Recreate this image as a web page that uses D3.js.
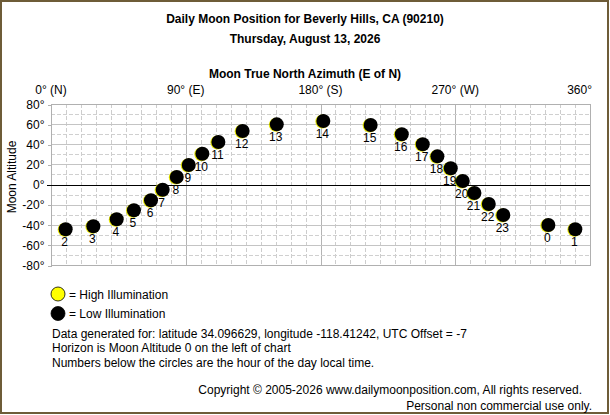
<!DOCTYPE html>
<html>
<head>
<meta charset="utf-8">
<script src="https://cdn.jsdelivr.net/npm/d3@7"></script>
<style>
  html, body { margin: 0; padding: 0; background: #fff; }
  svg { display: block; font-family: 'Liberation Sans', Arial, sans-serif; }
</style>
</head>
<body>
<div id="chart"></div>
<script>
// Moon position per local hour
const hours = [2, 3, 4, 5, 6, 7, 8, 9, 10, 11, 12, 13, 14, 15, 16, 17, 18, 19, 20, 21, 22, 23, 0, 1]
const azimuth = [9.8, 28.3, 43.9, 55.4, 66.8, 74.6, 84, 92, 101.1, 111.8, 128, 150.8,
    181.9, 213.5, 234.3, 248.3, 258.1, 267, 275, 282.8, 292.4, 302.1, 332.2, 350.2]
const altitude = [-44.5, -41.5, -34.6, -25.6, -15.7, -5.2, 7.5, 19.4, 30.6, 42.2, 53.2, 59.8,
    63.1, 59.1, 49.9, 40, 28, 16.1, 3.5, -8.4, -19.4, -30.3, -40.3, -44.5]

// Axis ticks
const azTicks = [0, 90, 180, 270, 360]
const azTickLabels = ['0° (N)', '90° (E)', '180° (S)', '270° (W)', '360°']
const altTicks = [80, 60, 40, 20, 0, -20, -40, -60, -80]

// Text
const titleLines = ['Daily Moon Position for Beverly Hills, CA (90210)', 'Thursday, August 13, 2026']
const xTitle = 'Moon True North Azimuth (E of N)'
const yTitle = 'Moon Altitude'
const legendLabels = ['= High Illumination', '= Low Illumination']
const notes = [
    'Data generated for: latitude 34.096629, longitude -118.41242, UTC Offset = -7',
    'Horizon is Moon Altitude 0 on the left of chart',
    'Numbers below the circles are the hour of the day local time.',
]
const footer = [
    'Copyright © 2005-2026 www.dailymoonposition.com, All rights reserved.',
    'Personal non commercial use only.',
]

const W = 610
const H = 415
const plot = { left: 51, right: 590, top: 104, bottom: 265 }

const points = hours.map((h, i) => ({ hour: h, az: azimuth[i], alt: altitude[i] }))

const svg = d3
    .select('#chart')
    .append('svg')
    .attr('width', W)
    .attr('height', H)

// Frame
svg.append('rect')
    .attr('x', 1)
    .attr('y', 1)
    .attr('width', W - 3)
    .attr('height', H - 3)
    .attr('fill', '#fff')
    .attr('stroke', '#6e5c38')
    .attr('stroke-width', 2)

const x = d3.scaleLinear().domain([0, 360]).range([plot.left, plot.right])
const y = d3.scaleLinear().domain([-80, 80]).range([plot.bottom, plot.top])

// Grid
const grid = svg.append('g').attr('shape-rendering', 'crispEdges')
grid.selectAll('.vgrid')
    .data(d3.range(10, 360, 10))
    .join('line')
    .attr('x1', (d) => Math.round(x(d)) + 0.5)
    .attr('x2', (d) => Math.round(x(d)) + 0.5)
    .attr('y1', plot.top)
    .attr('y2', plot.bottom)
    .attr('stroke', (d) => (d % 90 === 0 ? '#b4b4b4' : '#cdcdcd'))
    .attr('stroke-dasharray', (d) => (d % 90 === 0 ? null : '4,2'))

grid.selectAll('.hgrid')
    .data(d3.range(-70, 80, 10))
    .join('line')
    .attr('x1', plot.left)
    .attr('x2', plot.right)
    .attr('y1', (d) => Math.round(y(d)) + 0.5)
    .attr('y2', (d) => Math.round(y(d)) + 0.5)
    .attr('stroke', (d) => (d % 20 === 0 ? '#c4c4c4' : '#d0d0d0'))
    .attr('stroke-dasharray', (d) => (d % 20 === 0 ? null : '4,2'))

// Plot frame
svg.append('rect')
    .attr('x', plot.left + 0.5)
    .attr('y', plot.top + 0.5)
    .attr('width', plot.right - plot.left)
    .attr('height', plot.bottom - plot.top)
    .attr('fill', 'none')
    .attr('stroke', '#b0b0b0')
    .attr('shape-rendering', 'crispEdges')

// Left axis
const yAxis = d3.axisLeft(y)
    .tickValues(altTicks)
    .tickSize(4)
    .tickFormat((d) => `${d}°`)
svg.append('g')
    .attr('transform', `translate(${plot.left + 0.5},0.5)`)
    .call(yAxis)
    .call((g) => g.select('.domain').remove())
    .call((g) => g.selectAll('line').attr('stroke', '#b0b0b0').attr('shape-rendering', 'crispEdges'))
    .call((g) => g.selectAll('text')
        .attr('x', -7)
        .attr('fill', '#000')
        .style('font-size', '12px')
        .style('font-family', "'Liberation Sans', Arial, sans-serif"))

// Top axis labels
svg.append('g')
    .selectAll('text')
    .data(azTicks)
    .join('text')
    .attr('x', (d) => (d === 360 ? x(d) + 2 : x(d)))
    .attr('y', 94)
    .attr('text-anchor', (d) => (d === 360 ? 'end' : 'middle'))
    .attr('font-size', 12)
    .text((d, i) => azTickLabels[i])

// Horizon
svg.append('line')
    .attr('x1', plot.left - 4)
    .attr('x2', plot.right)
    .attr('y1', Math.round(y(0)) + 0.5)
    .attr('y2', Math.round(y(0)) + 0.5)
    .attr('stroke', '#000')
    .attr('shape-rendering', 'crispEdges')

// Titles
svg.selectAll('.title')
    .data(titleLines)
    .join('text')
    .attr('x', 305)
    .attr('y', (d, i) => 23 + i * 20)
    .attr('text-anchor', 'middle')
    .attr('font-size', 12)
    .attr('font-weight', 'bold')
    .text((d) => d)

svg.append('text')
    .attr('x', 305)
    .attr('y', 78)
    .attr('text-anchor', 'middle')
    .attr('font-size', 12)
    .attr('font-weight', 'bold')
    .text(xTitle)

svg.append('text')
    .attr('transform', `translate(16, 177) rotate(-90)`)
    .attr('text-anchor', 'middle')
    .attr('font-size', 12)
    .text(yTitle)

// Moon circles: thin illuminated crescent on the left
const moons = svg.append('g')
moons.selectAll('.lit')
    .data(points)
    .join('circle')
    .attr('cx', (d) => x(d.az) - 1)
    .attr('cy', (d) => y(d.alt) + 0.5)
    .attr('r', 7)
    .attr('fill', '#e6e600')
moons.selectAll('.dark')
    .data(points)
    .join('circle')
    .attr('cx', (d) => x(d.az))
    .attr('cy', (d) => y(d.alt))
    .attr('r', 7)
    .attr('fill', '#000')

svg.append('g')
    .selectAll('text')
    .data(points)
    .join('text')
    .attr('x', (d) => x(d.az) - 1)
    .attr('y', (d) => y(d.alt) + 17)
    .attr('text-anchor', 'middle')
    .attr('font-size', 12)
    .text((d) => d.hour)

// Legend
const legend = svg.append('g')
const legendFill = ['#ffff00', '#000']
legend.selectAll('circle')
    .data(legendLabels)
    .join('circle')
    .attr('cx', 58)
    .attr('cy', (d, i) => 294 + i * 19.5)
    .attr('r', 7)
    .attr('fill', (d, i) => legendFill[i])
    .attr('stroke', '#000')
    .attr('stroke-width', 0.8)
legend.selectAll('text')
    .data(legendLabels)
    .join('text')
    .attr('x', 69)
    .attr('y', (d, i) => 298.5 + i * 19.5)
    .attr('font-size', 12)
    .text((d) => d)

// Notes
svg.append('g')
    .selectAll('text')
    .data(notes)
    .join('text')
    .attr('x', 52)
    .attr('y', (d, i) => 338 + i * 14.3)
    .attr('font-size', 12)
    .text((d) => d)

svg.append('g')
    .selectAll('text')
    .data(footer)
    .join('text')
    .attr('x', (d, i) => (i === 0 ? 582 : 592))
    .attr('y', (d, i) => 394 + i * 16)
    .attr('text-anchor', 'end')
    .attr('font-size', 12)
    .text((d) => d)
</script>
</body>
</html>
